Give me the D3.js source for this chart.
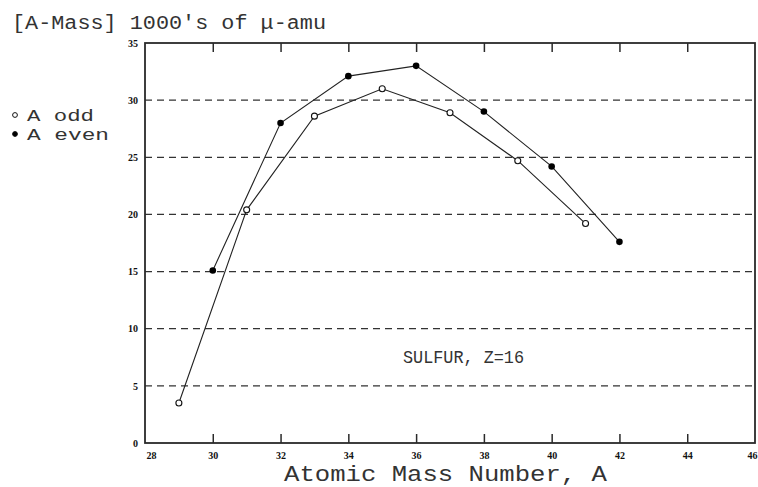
<!DOCTYPE html>
<html>
<head>
<meta charset="utf-8">
<script src="https://cdn.jsdelivr.net/npm/d3@7"></script>
<style>
  body { margin: 0; background: #fff; }
  svg { display: block; }
</style>
</head>
<body>
<script>
// mass excess data (thousands of micro-amu)
const oddA = [29, 31, 33, 35, 37, 39, 41];
const oddMass = [3.5, 20.4, 28.6, 31.0, 28.9, 24.7, 19.2];
const evenA = [30, 32, 34, 36, 38, 40, 42];
const evenMass = [15.1, 28.0, 32.1, 33.0, 29.0, 24.2, 17.6];
const xTicks = [28, 30, 32, 34, 36, 38, 40, 42, 44, 46];
const yTicks = [0, 5, 10, 15, 20, 25, 30, 35];
const legendLabels = ["A odd", "A even"];

const W = 758, H = 487;
const m = { left: 145, right: 3, top: 43, bottom: 44 };

const svg = d3.select("body").append("svg")
  .attr("width", W)
  .attr("height", H);

const x = d3.scaleLinear().domain([28, 46]).range([m.left, W - m.right]);
const y = d3.scaleLinear().domain([0, 35]).range([H - m.bottom, m.top]);

const ink = "#2a2a2a";
const textInk = "#333";

// dashed grid lines
svg.append("g")
  .selectAll("line")
  .data(yTicks.filter(d => d > 0 && d < 35))
  .join("line")
  .attr("x1", x(28)).attr("x2", x(46))
  .attr("y1", d => y(d)).attr("y2", d => y(d))
  .attr("stroke", "#333")
  .attr("stroke-width", 1.3)
  .attr("stroke-dasharray", "7,5");

// bottom axis, ticks point inward
const xAxis = svg.append("g")
  .attr("transform", `translate(0,${y(0)})`)
  .call(d3.axisBottom(x).tickValues(xTicks).tickSizeInner(-9).tickSizeOuter(0).tickPadding(9));
xAxis.select(".domain").remove();
xAxis.selectAll(".tick line").attr("stroke", ink).attr("stroke-width", 1.5)
  .filter(d => d == 28 || d == 46).remove();
xAxis.selectAll("text")
  .attr("font-family", "Liberation Serif")
  .attr("font-weight", "bold")
  .attr("font-size", 10)
  .attr("fill", "#111")
  .attr("dx", d => d == 28 ? 6 : (d == 46 ? -3 : 0));

// top ticks, no labels
const xTop = svg.append("g")
  .attr("transform", `translate(0,${y(35)})`)
  .call(d3.axisTop(x).tickValues(xTicks.filter(d => d > 28 && d < 46)).tickSizeInner(-9).tickSizeOuter(0).tickFormat(""));
xTop.select(".domain").remove();
xTop.selectAll(".tick line").attr("stroke", ink).attr("stroke-width", 1.5);

// left axis labels
const yAxis = svg.append("g")
  .attr("transform", `translate(${x(28)},0)`)
  .call(d3.axisLeft(y).tickValues(yTicks).tickSize(0).tickPadding(7));
yAxis.select(".domain").remove();
yAxis.selectAll("text")
  .attr("font-family", "Liberation Serif")
  .attr("font-weight", "bold")
  .attr("font-size", 10)
  .attr("fill", "#111");

// frame
svg.append("rect")
  .attr("x", x(28)).attr("y", y(35))
  .attr("width", x(46) - x(28))
  .attr("height", y(0) - y(35))
  .attr("fill", "none")
  .attr("stroke", ink)
  .attr("stroke-width", 1.8);

const line = d3.line()
  .x(d => x(d[0]))
  .y(d => y(d[1]));

const oddPts = d3.zip(oddA, oddMass);
const evenPts = d3.zip(evenA, evenMass);

svg.append("path")
  .attr("d", line(oddPts))
  .attr("fill", "none")
  .attr("stroke", "#222")
  .attr("stroke-width", 1.1);

svg.append("path")
  .attr("d", line(evenPts))
  .attr("fill", "none")
  .attr("stroke", "#222")
  .attr("stroke-width", 1.1);

svg.append("g").selectAll("circle")
  .data(oddPts)
  .join("circle")
  .attr("cx", d => x(d[0])).attr("cy", d => y(d[1]))
  .attr("r", 3)
  .attr("fill", "#fff")
  .attr("stroke", "#111")
  .attr("stroke-width", 1.1);

svg.append("g").selectAll("circle")
  .data(evenPts)
  .join("circle")
  .attr("cx", d => x(d[0])).attr("cy", d => y(d[1]))
  .attr("r", 3.3)
  .attr("fill", "#000");

// title and labels (stretched to the reference widths)
function label(tx, ty, size, len, str) {
  return svg.append("text")
    .attr("x", tx).attr("y", ty)
    .attr("font-family", "Liberation Mono")
    .attr("font-size", size)
    .attr("textLength", len)
    .attr("lengthAdjust", "spacingAndGlyphs")
    .attr("fill", textInk)
    .text(str);
}

label(12, 29, 20, 314, "[A-Mass] 1000's of μ-amu");
label(284, 481, 22, 323, "Atomic Mass Number, A");
label(403, 363, 19, 121, "SULFUR, Z=16");

// legend
const legLen = [67, 82];
const leg = svg.append("g");
leg.selectAll("text")
  .data(legendLabels)
  .join("text")
  .attr("x", 27)
  .attr("y", (d, i) => 121 + i * 19)
  .attr("font-family", "Liberation Mono")
  .attr("font-size", 17)
  .attr("textLength", (d, i) => legLen[i])
  .attr("lengthAdjust", "spacingAndGlyphs")
  .attr("fill", textInk)
  .text(d => d);
leg.selectAll("circle")
  .data(legendLabels)
  .join("circle")
  .attr("cx", 15)
  .attr("cy", (d, i) => 115 + i * 19)
  .attr("r", 2.4)
  .attr("fill", (d, i) => i == 0 ? "#fff" : "#000")
  .attr("stroke", "#111")
  .attr("stroke-width", 1);
</script>
</body>
</html>
